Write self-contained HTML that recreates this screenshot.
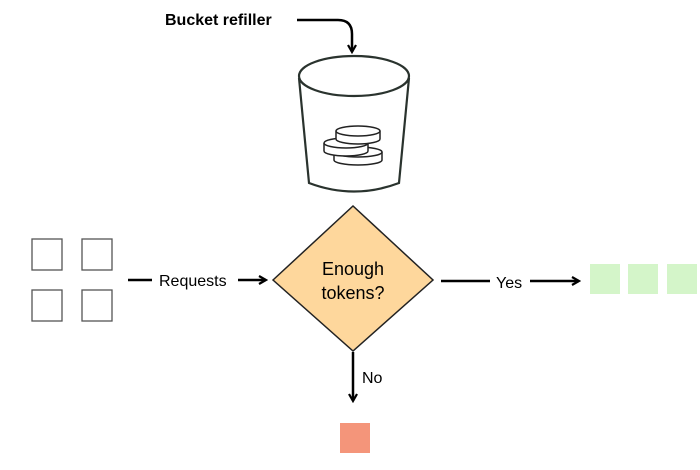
<!DOCTYPE html>
<html><head><style>
body{margin:0;background:#fff;width:700px;height:465px;overflow:hidden;font-family:"Liberation Sans",sans-serif}
</style></head><body>
<svg width="700" height="465" viewBox="0 0 700 465" xmlns="http://www.w3.org/2000/svg">
<defs><marker id="a" markerWidth="10" markerHeight="10" refX="8" refY="5" orient="auto" markerUnits="userSpaceOnUse"><path d="M1,1 L8,5 L1,9" fill="none" stroke="#000" stroke-width="2.2"/></marker></defs>
<text x="165" y="25" font-size="16" font-weight="bold" fill="#000">Bucket refiller</text>
<path d="M297,20 L338,20 Q352,20 352,34 L352,52" fill="none" stroke="#000" stroke-width="2.5" marker-end="url(#a)"/>
<g fill="none" stroke="#2a332e" stroke-width="2.2">
<ellipse cx="354" cy="76" rx="55" ry="20"/>
<path d="M299,78 L309,183 Q354,200 399,183 L409,78"/>
</g>
<g fill="#fff" stroke="#222" stroke-width="1.5">
<path d="M334,152 L334,160 A24,5 0 0 0 382,160 L382,152"/><ellipse cx="358" cy="152" rx="24" ry="5"/>
<path d="M324,143 L324,151 A22,5 0 0 0 368,151 L368,143"/><ellipse cx="346" cy="143" rx="22" ry="5"/>
<path d="M336,131 L336,139 A22,5 0 0 0 380,139 L380,131"/><ellipse cx="358" cy="131" rx="22" ry="5"/>
</g>
<g fill="#fff" stroke="#555" stroke-width="1.3">
<rect x="32" y="239" width="30" height="31"/><rect x="82" y="239" width="30" height="31"/>
<rect x="32" y="290" width="30" height="31"/><rect x="82" y="290" width="30" height="31"/>
</g>
<path d="M128,280 L152,280" stroke="#000" stroke-width="2.5"/>
<text x="159" y="286" font-size="16">Requests</text>
<path d="M238,280 L266,280" stroke="#000" stroke-width="2.5" marker-end="url(#a)"/>
<polygon points="273,280 353,206 433,280 353,351" fill="#fed79c" stroke="#222" stroke-width="1.5"/>
<text x="353" y="275" font-size="18" text-anchor="middle">Enough</text>
<text x="353" y="299" font-size="18" text-anchor="middle">tokens?</text>
<path d="M441,281 L490,281" stroke="#000" stroke-width="2.5"/>
<text x="496" y="288" font-size="16">Yes</text>
<path d="M530,281 L579,281" stroke="#000" stroke-width="2.5" marker-end="url(#a)"/>
<g fill="#d4f5c9"><rect x="590" y="264" width="30" height="30"/><rect x="628" y="264" width="30" height="30"/><rect x="667" y="264" width="30" height="30"/></g>
<path d="M353,352 L353,401" stroke="#000" stroke-width="2.5" marker-end="url(#a)"/>
<text x="362" y="383" font-size="16">No</text>
<rect x="340" y="423" width="30" height="30" fill="#f4957a"/>
</svg>
</body></html>
